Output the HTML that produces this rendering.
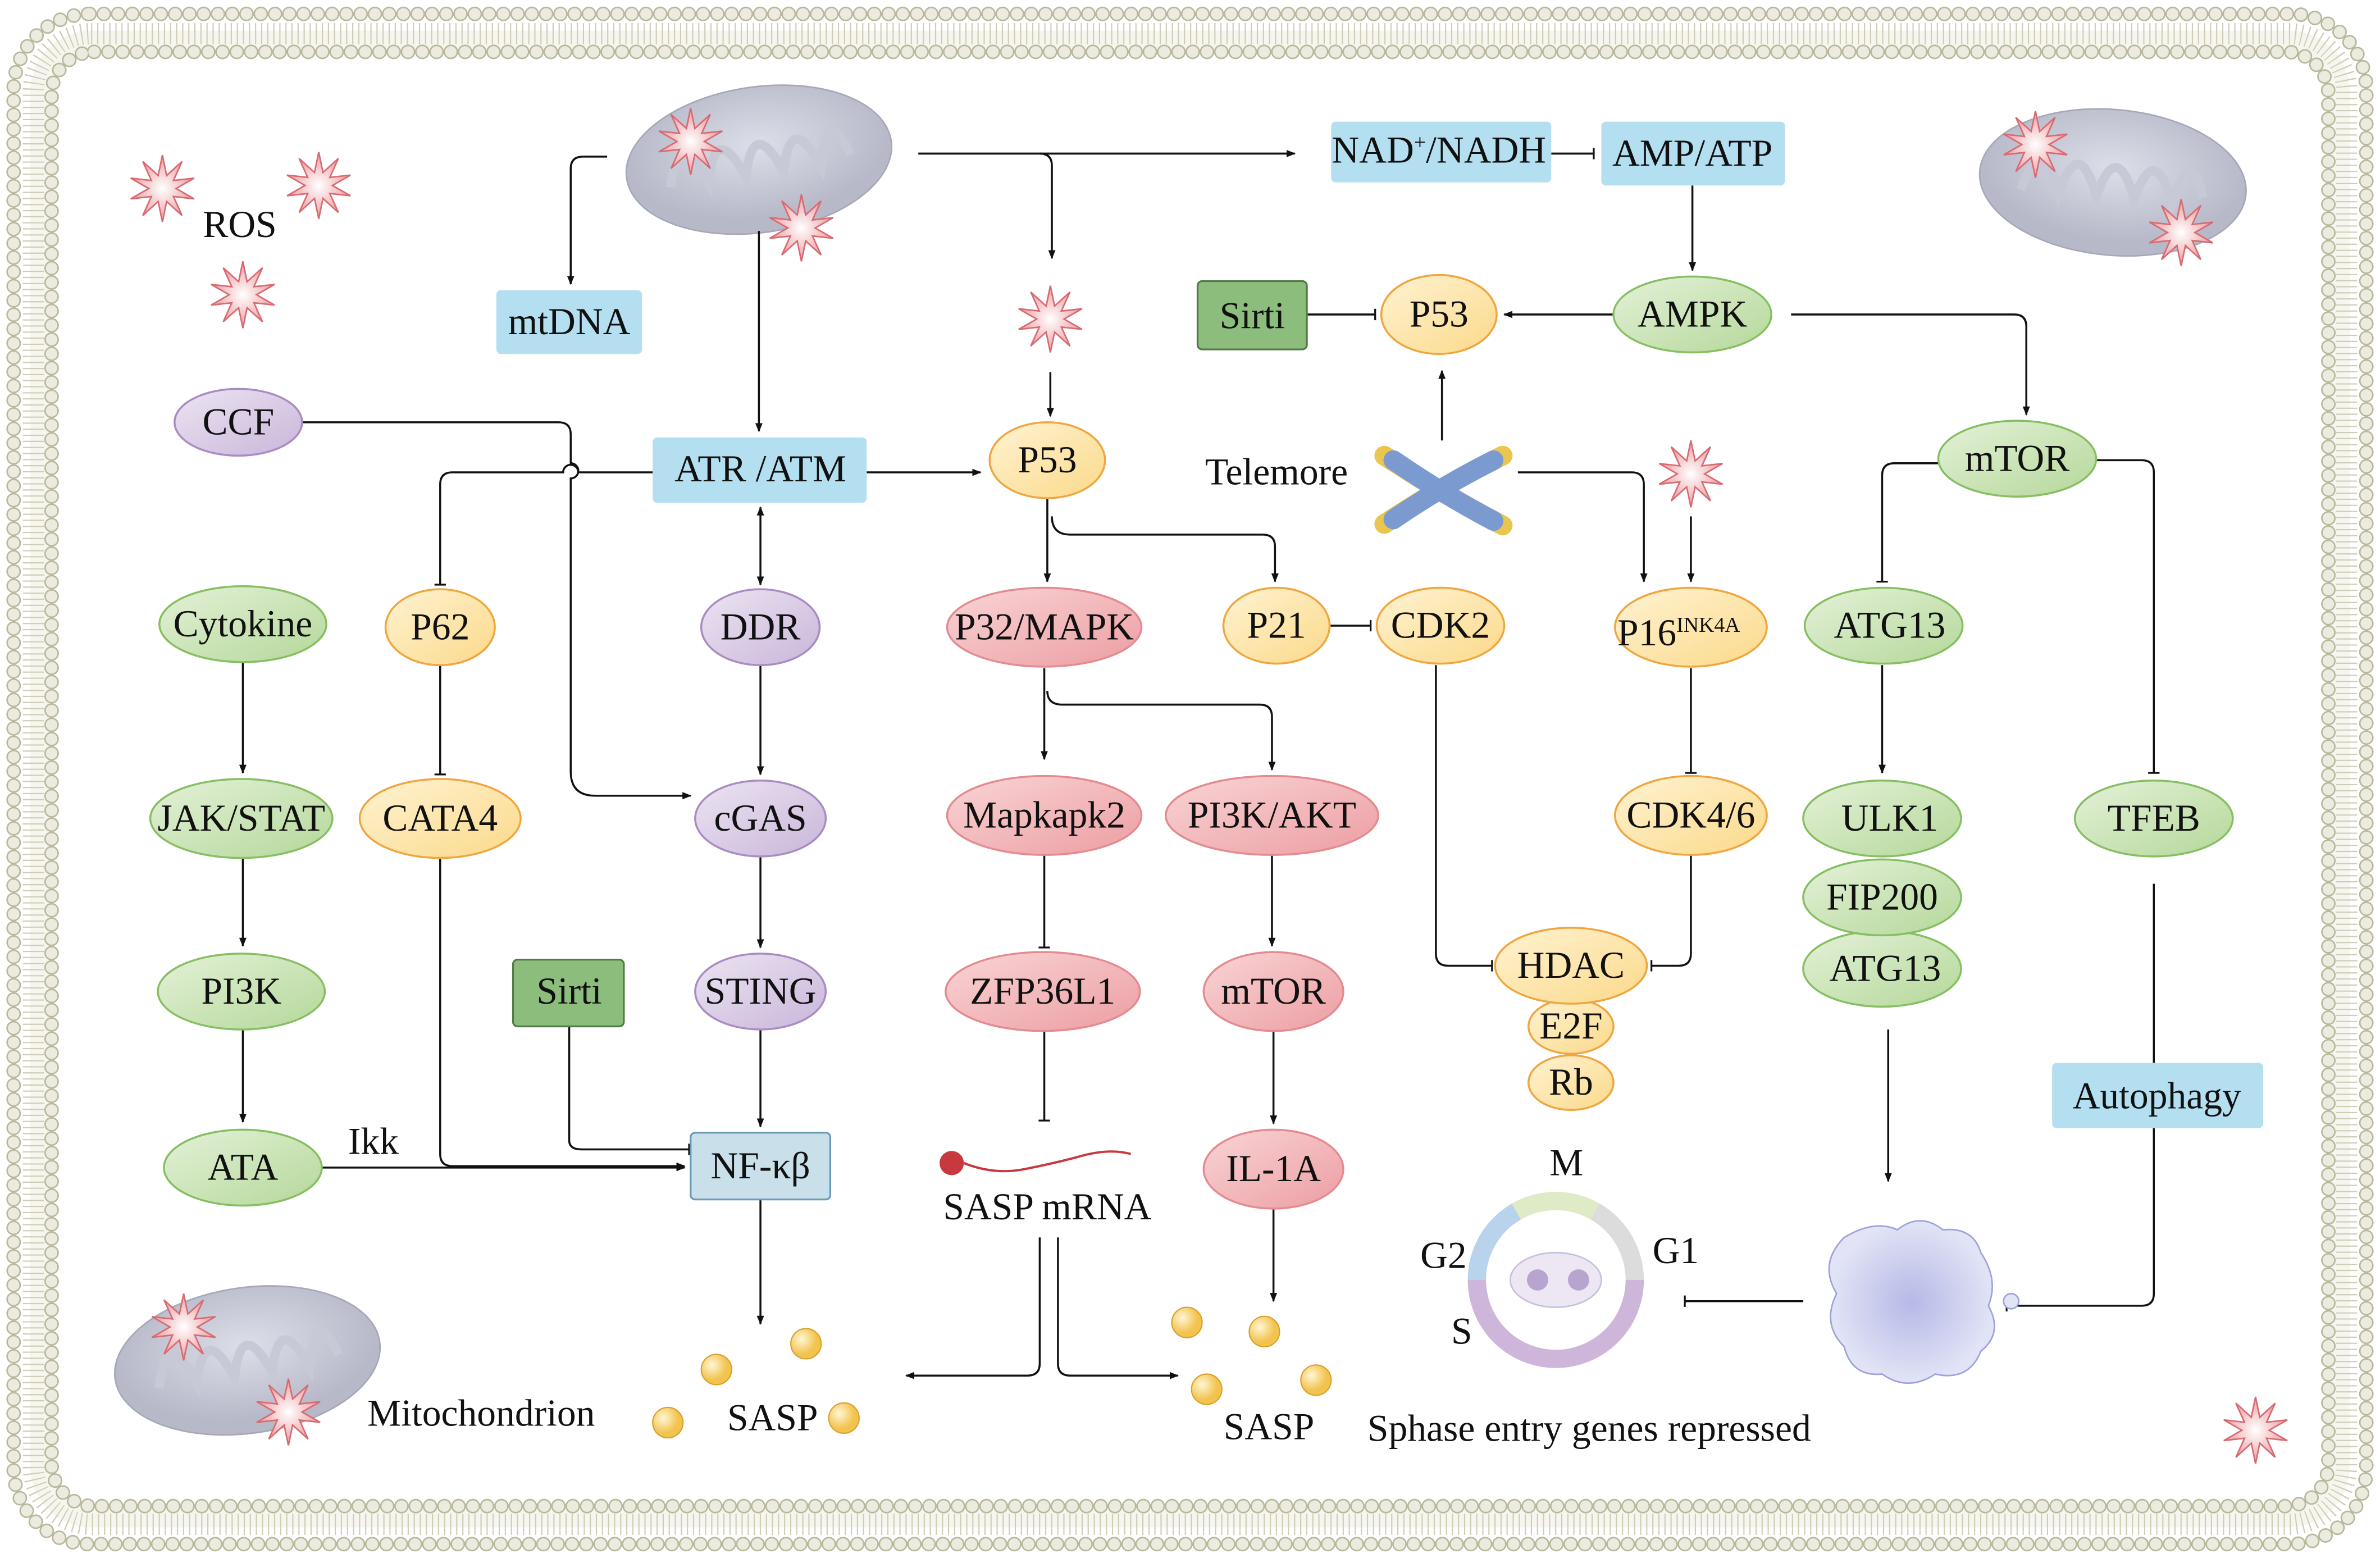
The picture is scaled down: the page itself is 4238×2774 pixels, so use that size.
<!DOCTYPE html>
<html><head><meta charset="utf-8"><style>
html,body{margin:0;padding:0;background:#fff}
svg{display:block}
text{font-family:"Liberation Serif","Times New Roman",serif;fill:#111}
</style></head><body>
<svg width="4238" height="2774" viewBox="0 0 1568 1026" xmlns="http://www.w3.org/2000/svg" font-family="Liberation Serif, serif">
<defs>
<marker id="ar" viewBox="0 0 10 10" refX="9" refY="5" markerWidth="6" markerHeight="6" orient="auto-start-reverse" markerUnits="userSpaceOnUse"><path d="M0,1 L10,5 L0,9 z" fill="#111"/></marker>
<marker id="tb" viewBox="0 0 4 10" refX="2" refY="5" markerWidth="3" markerHeight="10" orient="auto" markerUnits="userSpaceOnUse"><path d="M2,0 L2,10" stroke="#111" stroke-width="1.6"/></marker>
<linearGradient id="gG" x1="0" y1="0" x2="1" y2="1"><stop offset="0" stop-color="#e4f1d8"/><stop offset="1" stop-color="#b5d89a"/></linearGradient>
<linearGradient id="gY" x1="0" y1="0" x2="1" y2="1"><stop offset="0" stop-color="#fff3d2"/><stop offset="1" stop-color="#fbd98a"/></linearGradient>
<linearGradient id="gP" x1="0" y1="0" x2="1" y2="1"><stop offset="0" stop-color="#ece4f2"/><stop offset="1" stop-color="#c9b6da"/></linearGradient>
<linearGradient id="gR" x1="0" y1="0" x2="1" y2="1"><stop offset="0" stop-color="#f9d4d5"/><stop offset="1" stop-color="#ec9ea3"/></linearGradient>
<radialGradient id="gS"><stop offset="0" stop-color="#fff"/><stop offset="1" stop-color="#ec9ca0"/></radialGradient>
<radialGradient id="gM" cx="0.5" cy="0.4"><stop offset="0" stop-color="#dcdee8"/><stop offset="1" stop-color="#b7b9c9"/></radialGradient>
<radialGradient id="gB" cx="0.35" cy="0.35"><stop offset="0" stop-color="#fff6d6"/><stop offset="1" stop-color="#f2c34e"/></radialGradient>
<radialGradient id="gC" cx="0.5" cy="0.5"><stop offset="0" stop-color="#b6b9e6"/><stop offset="1" stop-color="#e2e4f6"/></radialGradient>
<polygon id="star" points="0,-22 2.78,-8.56 12.93,-17.8 7.28,-5.29 20.92,-6.8 9,0 20.92,6.8 7.28,5.29 12.93,17.8 2.78,8.56 0,22 -2.78,8.56 -12.93,17.8 -7.28,5.29 -20.92,6.8 -9,0 -20.92,-6.8 -7.28,-5.29 -12.93,-17.8 -2.78,-8.56" fill="url(#gS)" stroke="#d86a72" stroke-width="1"/>
<g id="mito"><ellipse cx="0" cy="0" rx="88" ry="48" fill="url(#gM)" stroke="#a5a8b8" stroke-width="1"/><path d="M-60,10 q10,-40 25,0 q10,-40 25,0 q10,-40 25,0 q10,-40 25,0 q10,-40 20,-5" fill="none" stroke="#c7c9d6" stroke-width="6"/></g>
<circle id="ball" r="10" fill="url(#gB)" stroke="#d9a02a" stroke-width="0.8"/>
</defs>

<rect x="20" y="20" width="1528" height="986" rx="40" fill="#f6f5ee"/>
<rect x="22" y="22" width="1524" height="982" rx="38" fill="none" stroke="#cfcdb8" stroke-width="14" stroke-dasharray="0.8 3.2"/>
<rect x="9" y="9" width="1550" height="1008" rx="50" fill="none" stroke="#b9b89c" stroke-width="9.6" stroke-dasharray="0 9.4" stroke-linecap="round"/>
<rect x="9" y="9" width="1550" height="1008" rx="50" fill="none" stroke="#ecebdf" stroke-width="7.6" stroke-dasharray="0 9.4" stroke-linecap="round"/>
<rect x="34" y="34" width="1500" height="958" rx="28" fill="#fff"/>
<rect x="34" y="34" width="1500" height="958" rx="28" fill="none" stroke="#b9b89c" stroke-width="9.6" stroke-dasharray="0 9.4" stroke-linecap="round"/>
<rect x="34" y="34" width="1500" height="958" rx="28" fill="none" stroke="#ecebdf" stroke-width="7.6" stroke-dasharray="0 9.4" stroke-linecap="round"/>

<use href="#mito" transform="translate(500,105) rotate(-8)"/>
<use href="#mito" transform="translate(1392,120) rotate(5)"/>
<use href="#mito" transform="translate(163,896) rotate(-8)"/>

<use href="#star" x="107" y="124"/><use href="#star" x="210" y="122"/><use href="#star" x="160" y="194"/>
<use href="#star" x="455" y="93"/><use href="#star" x="528" y="150"/><use href="#star" x="692" y="210"/>
<use href="#star" x="1114" y="312"/><use href="#star" x="1341" y="95"/><use href="#star" x="1437" y="153"/>
<use href="#star" x="121" y="874"/><use href="#star" x="190" y="930"/><use href="#star" x="1486" y="942"/>

<g fill="none" stroke="#111" stroke-width="1.3">
<path d="M400,103 H384 Q376,103 376,111 V187" marker-end="url(#ar)"/>
<path d="M500,152 V284" marker-end="url(#ar)"/>
<path d="M605,101 H853" marker-end="url(#ar)"/>
<path d="M685,101 Q693,101 693,109 V170" marker-end="url(#ar)"/>
<path d="M692,245 V274" marker-end="url(#ar)"/>
<path d="M1022,101 H1050" marker-end="url(#tb)"/>
<path d="M1115,122 V178" marker-end="url(#ar)"/>
<path d="M1063,207 H991" marker-end="url(#ar)"/>
<path d="M861,207 H906" marker-end="url(#tb)"/>
<path d="M1180,207 H1327 Q1335,207 1335,215 V273" marker-end="url(#ar)"/>
<path d="M950,290 V244" marker-end="url(#ar)"/>
<path d="M1000,311 H1075 Q1083,311 1083,319 V383" marker-end="url(#ar)"/>
<path d="M1114,340 V383" marker-end="url(#ar)"/>
<path d="M199,278 H368 Q376,278 376,286 V305 A5,5 0 0 1 376,315 V508 Q376,524 392,524 H455" marker-end="url(#ar)"/>
<path d="M430,311 H381 A5,5 0 0 0 371,311 H298 Q290,311 290,319 V385" marker-end="url(#tb)"/>
<path d="M571,311 H646" marker-end="url(#ar)"/>
<path d="M501,334 V385" marker-start="url(#ar)" marker-end="url(#ar)"/>
<path d="M501,438 V510" marker-end="url(#ar)"/>
<path d="M501,564 V624" marker-end="url(#ar)"/>
<path d="M501,678 V742" marker-end="url(#ar)"/>
<path d="M160,436 V509" marker-end="url(#ar)"/>
<path d="M160,565 V623" marker-end="url(#ar)"/>
<path d="M160,678 V739" marker-end="url(#ar)"/>
<path d="M290,438 V510" marker-end="url(#tb)"/>
<path d="M290,565 V760 Q290,768 298,768 H451" marker-end="url(#ar)"/>
<path d="M212,769 H451" marker-end="url(#ar)"/>
<path d="M375,676 V751 Q375,757 383,757 H454" marker-end="url(#tb)"/>
<path d="M501,790 V872" marker-end="url(#ar)"/>
<path d="M690,328 V383" marker-end="url(#ar)"/>
<path d="M693,340 Q693,352 705,352 H832 Q840,352 840,360 V383" marker-end="url(#ar)"/>
<path d="M688,440 V500" marker-end="url(#ar)"/>
<path d="M690,455 Q690,464 700,464 H830 Q838,464 838,472 V507" marker-end="url(#ar)"/>
<path d="M688,563 V624" marker-end="url(#tb)"/>
<path d="M688,679 V738" marker-end="url(#tb)"/>
<path d="M838,563 V623" marker-end="url(#ar)"/>
<path d="M839,679 V740" marker-end="url(#ar)"/>
<path d="M839,796 V857" marker-end="url(#ar)"/>
<path d="M685,815 V898 Q685,906 677,906 H597" marker-end="url(#ar)"/>
<path d="M697,815 V898 Q697,906 705,906 H776" marker-end="url(#ar)"/>
<path d="M876,412 H903" marker-end="url(#tb)"/>
<path d="M946,438 V628 Q946,636 954,636 H983" marker-end="url(#tb)"/>
<path d="M1114,440 V509" marker-end="url(#tb)"/>
<path d="M1114,563 V628 Q1114,636 1106,636 H1088" marker-end="url(#tb)"/>
<path d="M1277,305 H1248 Q1240,305 1240,313 V383" marker-end="url(#tb)"/>
<path d="M1381,303 H1411 Q1419,303 1419,311 V509" marker-end="url(#tb)"/>
<path d="M1240,438 V509" marker-end="url(#ar)"/>
<path d="M1244,678 V778" marker-end="url(#ar)"/>
<path d="M1419,582 V700"/>
<path d="M1419,743 V852 Q1419,860 1411,860 H1322" marker-end="url(#tb)"/>
<path d="M1188,857 H1110" marker-end="url(#tb)"/>
</g>

<g>
<rect x="327" y="191" width="96" height="42" rx="3" fill="#b3dff0"/>
<rect x="430" y="288" width="141" height="43" rx="3" fill="#b3dff0"/>
<rect x="877" y="80" width="145" height="40" rx="3" fill="#b3dff0"/>
<rect x="1055" y="80" width="121" height="42" rx="3" fill="#b3dff0"/>
<rect x="1352" y="700" width="139" height="43" rx="3" fill="#b3dff0"/>
<rect x="789" y="185" width="72" height="45" rx="3" fill="#8cbd7c" stroke="#4f7c44" stroke-width="1.2"/>
<rect x="338" y="632" width="73" height="44" rx="3" fill="#8cbd7c" stroke="#4f7c44" stroke-width="1.2"/>
<rect x="455" y="746" width="92" height="44" rx="3" fill="#c9e0ea" stroke="#6a9ab5" stroke-width="1.2"/>
</g>

<g stroke-width="1.3">
<ellipse cx="157" cy="278" rx="42" ry="22" fill="url(#gP)" stroke="#a98cc2"/>
<ellipse cx="501" cy="413" rx="39" ry="25" fill="url(#gP)" stroke="#a98cc2"/>
<ellipse cx="501" cy="539" rx="43" ry="25" fill="url(#gP)" stroke="#a98cc2"/>
<ellipse cx="501" cy="653" rx="43" ry="25" fill="url(#gP)" stroke="#a98cc2"/>
<ellipse cx="690" cy="303" rx="38" ry="25" fill="url(#gY)" stroke="#f0a640"/>
<ellipse cx="948" cy="207" rx="38" ry="26" fill="url(#gY)" stroke="#f0a640"/>
<ellipse cx="290" cy="413" rx="36" ry="25" fill="url(#gY)" stroke="#f0a640"/>
<ellipse cx="290" cy="539" rx="53" ry="26" fill="url(#gY)" stroke="#f0a640"/>
<ellipse cx="841" cy="412" rx="35" ry="25" fill="url(#gY)" stroke="#f0a640"/>
<ellipse cx="949" cy="412" rx="42" ry="25" fill="url(#gY)" stroke="#f0a640"/>
<ellipse cx="1114" cy="413" rx="50" ry="26" fill="url(#gY)" stroke="#f0a640"/>
<ellipse cx="1114" cy="537" rx="50" ry="26" fill="url(#gY)" stroke="#f0a640"/>
<ellipse cx="1035" cy="713" rx="28" ry="18" fill="url(#gY)" stroke="#f0a640"/>
<ellipse cx="1035" cy="676" rx="28" ry="18" fill="url(#gY)" stroke="#f0a640"/>
<ellipse cx="1035" cy="636" rx="50" ry="25" fill="url(#gY)" stroke="#f0a640"/>
<ellipse cx="688" cy="413" rx="64" ry="26" fill="url(#gR)" stroke="#e48a90"/>
<ellipse cx="688" cy="537" rx="64" ry="26" fill="url(#gR)" stroke="#e48a90"/>
<ellipse cx="838" cy="537" rx="70" ry="26" fill="url(#gR)" stroke="#e48a90"/>
<ellipse cx="687" cy="653" rx="64" ry="26" fill="url(#gR)" stroke="#e48a90"/>
<ellipse cx="839" cy="653" rx="46" ry="26" fill="url(#gR)" stroke="#e48a90"/>
<ellipse cx="839" cy="770" rx="46" ry="26" fill="url(#gR)" stroke="#e48a90"/>
<ellipse cx="160" cy="411" rx="55" ry="25" fill="url(#gG)" stroke="#86bf62"/>
<ellipse cx="159" cy="539" rx="60" ry="26" fill="url(#gG)" stroke="#86bf62"/>
<ellipse cx="159" cy="653" rx="55" ry="25" fill="url(#gG)" stroke="#86bf62"/>
<ellipse cx="160" cy="769" rx="52" ry="25" fill="url(#gG)" stroke="#86bf62"/>
<ellipse cx="1115" cy="207" rx="52" ry="25" fill="url(#gG)" stroke="#86bf62"/>
<ellipse cx="1329" cy="302" rx="52" ry="25" fill="url(#gG)" stroke="#86bf62"/>
<ellipse cx="1241" cy="412" rx="52" ry="25" fill="url(#gG)" stroke="#86bf62"/>
<ellipse cx="1240" cy="638" rx="52" ry="25" fill="url(#gG)" stroke="#86bf62"/>
<ellipse cx="1240" cy="591" rx="52" ry="25" fill="url(#gG)" stroke="#86bf62"/>
<ellipse cx="1240" cy="539" rx="52" ry="25" fill="url(#gG)" stroke="#86bf62"/>
<ellipse cx="1419" cy="539" rx="52" ry="25" fill="url(#gG)" stroke="#86bf62"/>
</g>

<g stroke-linecap="round" fill="none">
<path d="M912,300 Q950,325 990,346" stroke="#e9c650" stroke-width="13"/>
<path d="M912,345 Q950,320 990,300" stroke="#e9c650" stroke-width="13"/>
<path d="M918,303 Q950,325 984,343" stroke="#7b9ad0" stroke-width="13"/>
<path d="M918,342 Q950,320 984,303" stroke="#7b9ad0" stroke-width="13"/>
</g>

<circle cx="627" cy="766" r="8" fill="#c8393f"/>
<path d="M635,766 q20,8 40,4 q20,-4 35,-8 q20,-6 35,-2" fill="none" stroke="#c8393f" stroke-width="1.5"/>

<use href="#ball" x="472" y="902"/><use href="#ball" x="531" y="885"/><use href="#ball" x="440" y="937"/><use href="#ball" x="556" y="934"/>
<use href="#ball" x="782" y="871"/><use href="#ball" x="833" y="877"/><use href="#ball" x="795" y="915"/><use href="#ball" x="867" y="909"/>

<g fill="none" stroke-width="12">
<circle cx="1025" cy="843" r="52" stroke="#dcdcdc"/>
<path d="M999,798 A52,52 0 0 1 1051,798" stroke="#dfeac6"/>
<path d="M973,843 A52,52 0 0 1 999,798" stroke="#b9d3ec"/>
<path d="M1077,843 A52,52 0 0 1 973,843" stroke="#cdb6da"/>
</g>
<ellipse cx="1025" cy="843" rx="30" ry="18" fill="#ece7f2" stroke="#c9bedb"/>
<circle cx="1013" cy="843" r="7" fill="#b7a5d0"/><circle cx="1040" cy="843" r="7" fill="#b7a5d0"/>

<path d="M1215,815 q20,-12 35,-5 q15,-12 30,0 q20,-2 25,15 q12,18 5,35 q10,18 -5,30 q-8,20 -30,15 q-18,12 -35,0 q-20,2 -25,-18 q-15,-15 -5,-35 q-12,-20 5,-37 z" fill="url(#gC)" stroke="#9ea3d8" stroke-width="1"/>
<circle cx="1325" cy="857" r="5" fill="#e2e4f6" stroke="#9ea3d8"/>

<g font-size="25" text-anchor="middle" font-family="Liberation Serif, serif">
<text x="375" y="220">mtDNA</text>
<text x="157" y="286">CCF</text>
<text x="501" y="317">ATR /ATM</text>
<text x="690" y="311">P53</text>
<text x="948" y="215">P53</text>
<text x="825" y="216">Sirti</text>
<text x="948" y="107">NAD<tspan font-size="14" dy="-9">+</tspan><tspan dy="9">/NADH</tspan></text>
<text x="1115" y="109">AMP/ATP</text>
<text x="1115" y="215">AMPK</text>
<text x="1329" y="310">mTOR</text>
<text x="160" y="419">Cytokine</text>
<text x="290" y="421">P62</text>
<text x="501" y="421">DDR</text>
<text x="688" y="421">P32/MAPK</text>
<text x="841" y="420">P21</text>
<text x="949" y="420">CDK2</text>
<text x="1106" y="425">P16<tspan font-size="14" dy="-9">INK4A</tspan></text>
<text x="1245" y="420">ATG13</text>
<text x="159" y="547">JAK/STAT</text>
<text x="290" y="547">CATA4</text>
<text x="501" y="547">cGAS</text>
<text x="688" y="545">Mapkapk2</text>
<text x="838" y="545">PI3K/AKT</text>
<text x="1114" y="545">CDK4/6</text>
<text x="1245" y="547">ULK1</text>
<text x="1240" y="599">FIP200</text>
<text x="1242" y="646">ATG13</text>
<text x="1419" y="547">TFEB</text>
<text x="159" y="661">PI3K</text>
<text x="375" y="661">Sirti</text>
<text x="501" y="661">STING</text>
<text x="687" y="661">ZFP36L1</text>
<text x="839" y="661">mTOR</text>
<text x="1035" y="644">HDAC</text>
<text x="1035" y="684">E2F</text>
<text x="1035" y="721">Rb</text>
<text x="1421" y="730">Autophagy</text>
<text x="160" y="777">ATA</text>
<text x="501" y="776">NF-κβ</text>
<text x="839" y="778">IL-1A</text>
<text x="690" y="803">SASP mRNA</text>
<text x="509" y="942">SASP</text>
<text x="836" y="948">SASP</text>
<text x="1047" y="949">Sphase entry genes repressed</text>
<text x="317" y="939">Mitochondrion</text>
<text x="158" y="156">ROS</text>
<text x="841" y="319">Telemore</text>
<text x="246" y="760">Ikk</text>
<text x="1032" y="774">M</text>
<text x="1104" y="832">G1</text>
<text x="951" y="835">G2</text>
<text x="963" y="885">S</text>
</g>
</svg>
</body></html>
